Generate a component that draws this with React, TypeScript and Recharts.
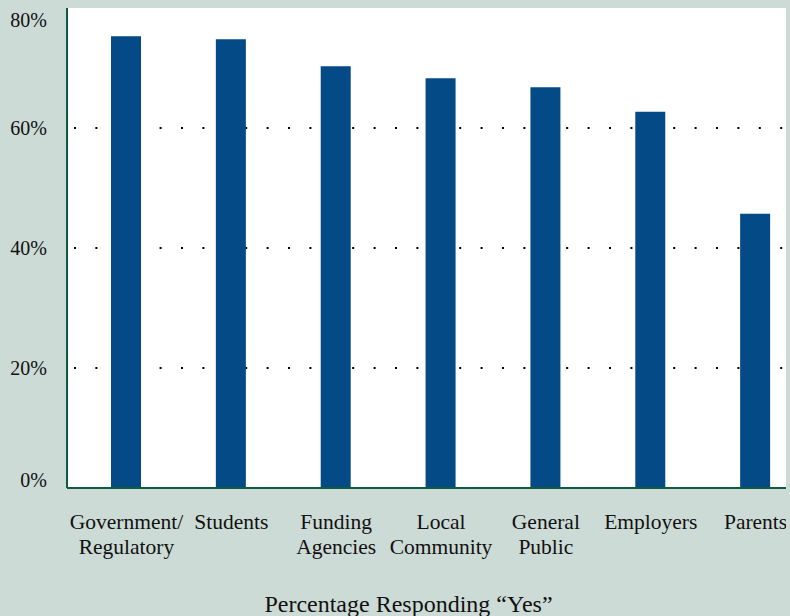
import { BarChart, Bar, XAxis, YAxis, CartesianGrid } from "recharts";

const categories = [
  "Government/\nRegulatory",
  "Students",
  "Funding\nAgencies",
  "Local\nCommunity",
  "General\nPublic",
  "Employers",
  "Parents",
];
const yesPercent = [75.3, 74.8, 70.3, 68.3, 66.8, 62.7, 45.7];
const yTicks = [0, 20, 40, 60, 80];
const gridValues = [20, 40, 60];
const title = "Percentage Responding \u201cYes\u201d";

const data = categories.map((name, i) => ({ name, value: yesPercent[i] }));

const FONT = "'Liberation Serif', 'Times New Roman', serif";
const AXIS = "#0f5a40";
const BG = "#cddbd6";
const BAR = "#034a87";

function CategoryTick({ x, y, payload }: any) {
  const lines = String(payload.value).split("\n");
  return (
    <text x={x} y={y} textAnchor="middle" fontFamily={FONT} fontSize={21.5} fill="#111">
      {lines.map((line, i) => (
        <tspan key={i} x={x} dy={i === 0 ? 41 : 25}>
          {line}
        </tspan>
      ))}
    </text>
  );
}

function PercentTick({ x, y, payload }: any) {
  // keep the end labels inside the plot, as in the original
  const shift = payload.value === 80 ? 11 : payload.value === 0 ? -8 : 0;
  return (
    <text x={x} y={y + shift} dy="0.36em" textAnchor="end" fontFamily={FONT} fontSize={20} fill="#111">
      {payload.value}%
    </text>
  );
}

function TitleLabel({ viewBox }: any) {
  const cx = viewBox.x + viewBox.width / 2 - 29;
  return (
    <text x={cx} y={612} textAnchor="middle" fontFamily={FONT} fontSize={24} fill="#111">
      {title}
    </text>
  );
}

export default function App() {
  return (
    <div
      style={{
        position: "absolute",
        left: 0,
        top: 0,
        width: 790,
        height: 616,
        background: BG,
        overflow: "hidden",
      }}
    >
      <BarChart width={808} height={616} data={data} margin={{ top: 8, right: 0, bottom: 0, left: 0 }}>
        <CartesianGrid
          vertical={false}
          fill="#fff"
          stroke="#000"
          strokeWidth={2}
          strokeDasharray="2 19.4"
          strokeDashoffset={-7}
          horizontalCoordinatesGenerator={({ yAxis, offset }: any) => {
            const s = yAxis?.scale;
            if (typeof s === "function") return gridValues.map((v) => s(v));
            return gridValues.map((v) => offset.top + offset.height * (1 - v / 80));
          }}
        />
        <XAxis
          dataKey="name"
          height={128}
          padding={{ left: 7, right: 0 }}
          tickLine={false}
          tickSize={0}
          tickMargin={0}
          interval={0}
          axisLine={{ stroke: AXIS, strokeWidth: 2 }}
          tick={<CategoryTick />}
          label={<TitleLabel />}
        />
        <YAxis
          width={67}
          domain={[0, 80]}
          ticks={yTicks}
          tickLine={false}
          tickSize={0}
          tickMargin={20}
          axisLine={{ stroke: AXIS, strokeWidth: 2 }}
          tick={<PercentTick />}
        />
        <Bar dataKey="value" fill={BAR} barSize={30} isAnimationActive={false} />
      </BarChart>
      {/* grey frame strip on the right edge of the plot */}
      <div style={{ position: "absolute", left: 786, top: 0, width: 4, height: 616, background: BG }} />
    </div>
  );
}
